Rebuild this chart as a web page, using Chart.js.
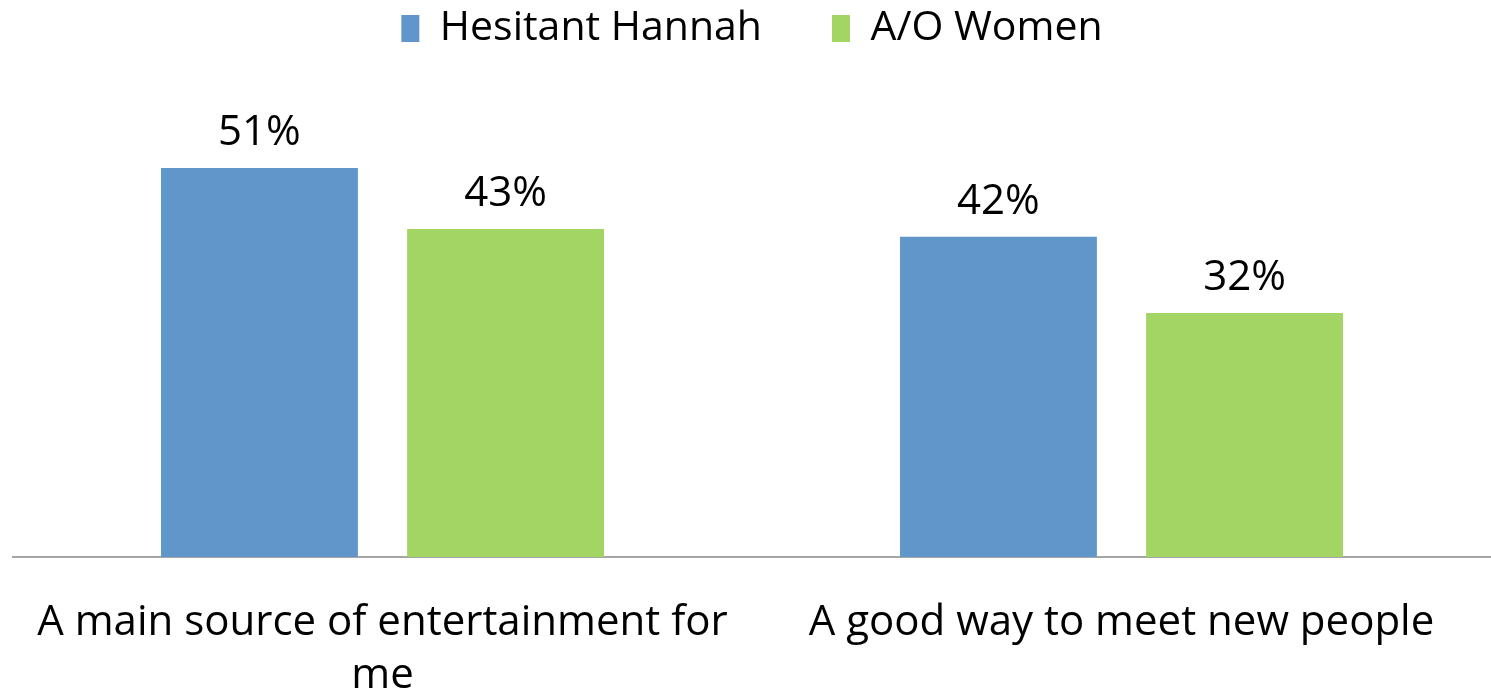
<!DOCTYPE html>
<html>
<head>
<meta charset="utf-8">
<script src="https://cdn.jsdelivr.net/npm/chart.js@4.4.0/dist/chart.umd.min.js"></script>
<style>
  html, body { margin: 0; padding: 0; background: #fff; }
  #wrap { width: 1491px; height: 695px; position: relative; }
</style>
</head>
<body>
<div id="wrap"><canvas id="grafico"></canvas></div>
<script>
// datos
const categorias = [['A main source of entertainment for', 'me'], 'A good way to meet new people'];
const serieNombres = ['Hesitant Hannah', 'A/O Women'];
const hesitantHannah = [51, 42];
const aoWomen = [43, 32];

const colores = {
    azul: '#6096C9',
    verde: '#A2D563',
    eje: '#A6A6A6',
    texto: '#000000'
};
const fuente = "'Open Sans', 'DejaVu Sans', sans-serif";

// etiquetas de valor encima de cada barra
const etiquetasValor = {
    id: 'etiquetasValor',
    afterDatasetsDraw(chart) {
        const ctx = chart.ctx;
        ctx.save();
        ctx.font = '42px ' + fuente;
        ctx.fillStyle = colores.texto;
        ctx.textAlign = 'center';
        ctx.textBaseline = 'bottom';
        chart.data.datasets.forEach((ds, i) => {
            chart.getDatasetMeta(i).data.forEach((bar, j) => {
                ctx.fillText(ds.data[j] + '%', bar.x, bar.y - 14);
            });
        });
        ctx.restore();
    }
};

new Chart(document.getElementById('grafico'), {
    type: 'bar',
    data: {
        labels: categorias,
        datasets: [
            {
                label: serieNombres[0],
                data: hesitantHannah,
                backgroundColor: colores.azul,
                borderWidth: 0,
                barPercentage: 0.8,
                categoryPercentage: 0.666
            },
            {
                label: serieNombres[1],
                data: aoWomen,
                backgroundColor: colores.verde,
                borderWidth: 0,
                barPercentage: 0.8,
                categoryPercentage: 0.666
            }
        ]
    },
    options: {
        responsive: true,
        maintainAspectRatio: false,
        animation: false,
        layout: { padding: { left: 13, right: 0, top: -62, bottom: 0 } },
        plugins: {
            legend: {
                display: true,
                position: 'top',
                labels: {
                    color: colores.texto,
                    font: { size: 41, family: fuente },
                    boxWidth: 18,
                    boxHeight: 27,
                    padding: 70
                }
            },
            tooltip: { enabled: false }
        },
        scales: {
            y: {
                display: false,
                min: 0,
                max: 65.3
            },
            x: {
                grid: { display: false },
                border: { display: true, color: colores.eje, width: 2 },
                ticks: {
                    color: colores.texto,
                    font: { size: 42, family: fuente, lineHeight: 1.26 },
                    padding: 32,
                    maxRotation: 0,
                    autoSkip: false
                },
                afterFit(scale) { scale.height = 138; }
            }
        }
    },
    plugins: [etiquetasValor]
});
</script>
</body>
</html>
